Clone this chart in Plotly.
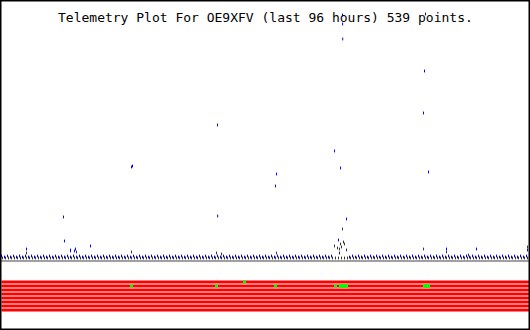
import plotly.graph_objects as go

TITLE = "Telemetry Plot For OE9XFV (last 96 hours) 539 points."
WINDOW_H = 96
SAMPLE_INTERVAL_H = 3 / 5.5   # regular baseline sampling step (hours)
GREY_PHASE_H = 1 / 5.5        # grey channel sampled slightly after blue

# Baseline channel (blue): values (raw units above baseline), one per sample
blue_base = [
    4, 3, 4, 3, 4, 3, 4, 3, 4, 3, 4,
    3, 4, 3, 4, 3, 4, 3, 4, 3, 4, 3,
    4, 3, 4, 3, 4, 3, 4, 3, 4, 3, 4,
    3, 4, 3, 4, 3, 4, 3, 4, 3, 4, 3,
    4, 3, 4, 3, 4, 3, 4, 3, 4, 3, 4,
    3, 4, 3, 4, 3, 4, 3, 4, 3, 4, 3,
    4, 3, 4, 3, 4, 3, 4, 3, 4, 3, 4,
    3, 4, 3, 4, 3, 4, 3, 4, 3, 4, 3,
    4, 3, 4, 3, 4, 3, 4, 3, 4, 3, 4,
    3, 4, 3, 4, 3, 4, 3, 4, 3, 4, 3,
    4, None, None, None, None, None, 3, 4, 3, 4, 3,
    4, 3, 4, 3, 4, 3, 4, 3, 4, 3, 4,
    3, 4, 3, 4, 3, 4, 3, 4, 3, 4, 3,
    4, 3, 4, 3, 4, 3, 4, 3, 4, 3, 4,
    3, 4, 3, 4, 3, 4, 3, 4, 3, 4, 3,
    4, 3, 4, 3, 4, 3, 4, 3, 4, 3, 4,
]

# Baseline channel (dark grey)
grey_base = [
    2, 2, 2, 2, 2, 2, 2, 2, 2, 2, 2,
    2, 2, 2, 2, 2, 2, 2, 2, 2, 2, 2,
    2, 2, 2, 2, 2, 2, 2, 2, 2, 2, 2,
    2, 2, 2, 2, 2, 2, 2, 2, 2, 2, 2,
    2, 2, 2, 2, 2, 2, 2, 2, 2, 2, 2,
    2, 2, 2, 2, 2, 2, 2, 2, 2, 2, 2,
    2, 2, 2, 2, 2, 2, 2, 2, 2, 2, 2,
    2, 2, 2, 2, 2, 2, 2, 2, 2, 2, 2,
    2, 2, 2, 2, 2, 2, 2, 2, 2, 2, 2,
    2, 2, 2, 2, 2, 2, 2, 2, 2, 2, 2,
    2, 2, 2, 2, 2, 2, 2, 2, 2, 2, 2,
    2, 2, 2, 2, 2, 2, 2, 2, 2, 2, 2,
    2, 2, 2, 2, 2, 2, 2, 2, 2, 2, 2,
    2, 2, 2, 2, 2, 2, 2, 2, 2, 2, 2,
    2, 2, 2, 2, 2, 2, 2, 2, 2, 2, 2,
    2, 2, 2, 2, 2, 2, 2, 2, 2, 2, 2,
]

# Excursions of the blue channel (hours, value)
blue_evt_t = [4.55, 11.27, 11.45, 12.55, 13.27, 13.45, 16.18, 23.64, 23.82,
              39.27, 39.30, 49.82, 50.00, 60.55, 61.27, 61.45, 61.64,
              62.00, 62.02, 62.04, 62.73, 76.73, 76.91, 77.09, 77.64,
              80.91, 86.36, 95.64]
blue_evt_v = [11, 43, 19, 10, 9, 11, 14, 93, 94,
              135, 44, 74, 86, 109, 20, 7, 92,
              245, 236, 221, 41, 147, 189, 246, 88,
              11, 11, 10]

# Excursions of the grey channel
grey_evt_t = [4.55, 12.55, 13.64, 23.64, 39.09, 40.00, 50.00, 60.55, 61.09,
              61.45, 61.64, 61.82, 62.00, 62.18, 62.36, 62.73, 76.73, 80.91,
              84.91, 95.64]
grey_evt_v = [7, 9, 8, 8, 7, 6, 7, 14, 12,
              11, 16, 13, 31, 18, 16, 10, 11, 8,
              5, 13]

# Digital bits: 8 rows, green where the bit was set
BITS = ["B1", "B2", "B3", "B4", "B5", "B6", "B7", "B8"]
bit_on_t = [44.18,
            23.64, 39.09, 49.82, 60.73,
            61.64, 61.82, 62.00, 62.18, 62.36, 62.55, 62.73,
            76.91, 77.09, 77.27, 77.45, 77.64]
bit_on_row = [0,
              1, 1, 1, 1,
              1, 1, 1, 1, 1, 1, 1,
              1, 1, 1, 1, 1]

blue_t = [i * SAMPLE_INTERVAL_H for i in range(len(blue_base))]
grey_t = [i * SAMPLE_INTERVAL_H + GREY_PHASE_H for i in range(len(grey_base))]

W, H = 530, 330
fig = go.Figure()

mk = lambda c: dict(symbol="line-ns", size=2, line=dict(width=1, color=c), color=c)

fig.add_trace(go.Scatter(x=grey_t, y=grey_base, mode="markers", marker=mk("#333333"),
                         xaxis="x", yaxis="y", hoverinfo="skip"))
fig.add_trace(go.Scatter(x=grey_evt_t, y=grey_evt_v, mode="markers", marker=mk("#333333"),
                         xaxis="x", yaxis="y", hoverinfo="skip"))
fig.add_trace(go.Scatter(x=blue_t, y=blue_base, mode="markers", marker=mk("#0000ff"),
                         xaxis="x", yaxis="y", hoverinfo="skip"))
fig.add_trace(go.Scatter(x=blue_evt_t, y=blue_evt_v, mode="markers", marker=mk("#0000ff"),
                         xaxis="x", yaxis="y", hoverinfo="skip"))

# Red bit stripes
fig.add_trace(go.Bar(y=list(range(len(BITS))), x=[WINDOW_H] * len(BITS), base=0,
                     orientation="h", marker=dict(color="#ff0000", line=dict(width=0)),
                     xaxis="x2", yaxis="y2", hoverinfo="skip"))
fig.add_trace(go.Scatter(x=bit_on_t, y=bit_on_row, mode="markers",
                         marker=dict(symbol="square", size=3, color="#00ff00", line=dict(width=0)),
                         xaxis="x2", yaxis="y2", hoverinfo="skip"))

xr = [-1.5 / 5.5, WINDOW_H + 0.5 / 5.5]
fig.update_layout(
    width=W, height=H,
    margin=dict(l=0, r=0, t=0, b=0),
    paper_bgcolor="white", plot_bgcolor="white",
    showlegend=False, bargap=0.25,
    xaxis=dict(range=xr, domain=[0, 1], anchor="y", showline=True, linecolor="#a0a0a0",
               linewidth=2, showgrid=False, zeroline=False, showticklabels=False, ticks=""),
    yaxis=dict(range=[0, 260], domain=[70 / H, 1], visible=False),
    xaxis2=dict(range=xr, domain=[0, 1], anchor="y2", visible=False),
    yaxis2=dict(range=[7.5, -0.5], domain=[18 / H, 50 / H], visible=False),
    annotations=[dict(text=TITLE, x=0.5, y=(H - 17) / H, xref="paper", yref="paper",
                      xanchor="center", yanchor="middle", showarrow=False,
                      font=dict(family="DejaVu Sans Mono", size=13, color="black"))],
    shapes=[dict(type="rect", xref="paper", yref="paper", x0=0, y0=0, x1=1, y1=1,
                 line=dict(color="black", width=3))],
)

fig.write_html("out.html", config={"displayModeBar": False})
